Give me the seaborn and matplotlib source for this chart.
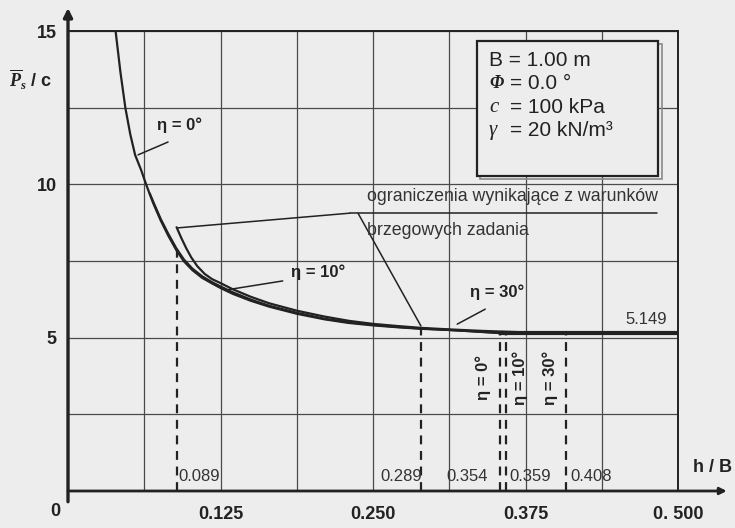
import numpy as np
import pandas as pd
import seaborn as sns
import matplotlib.pyplot as plt
from matplotlib.patches import Rectangle

# curves: h/B against P/c
h_eta0 = [0.039, 0.043, 0.047, 0.051, 0.055, 0.060, 0.064, 0.070, 0.076, 0.082,
          0.089, 0.095, 0.102, 0.110, 0.118, 0.125, 0.135, 0.150, 0.165, 0.1875,
          0.210, 0.230, 0.250, 0.270, 0.289, 0.3125, 0.330, 0.345, 0.354]
p_eta0 = [15.0, 13.65, 12.50, 11.64, 10.96, 10.46, 10.00, 9.37, 8.82, 8.34,
          7.84, 7.49, 7.20, 6.95, 6.77, 6.62, 6.43, 6.20, 6.01, 5.78,
          5.60, 5.48, 5.40, 5.34, 5.29, 5.25, 5.21, 5.17, 5.149]

h_eta10 = [0.067, 0.070, 0.076, 0.082, 0.089, 0.095, 0.102, 0.110, 0.118, 0.125,
           0.135, 0.150, 0.165, 0.1875, 0.210, 0.230, 0.250, 0.270, 0.289, 0.3125,
           0.335, 0.359]
p_eta10 = [9.70, 9.42, 8.87, 8.40, 7.90, 7.55, 7.25, 7.00, 6.81, 6.67,
           6.48, 6.24, 6.04, 5.81, 5.62, 5.50, 5.42, 5.35, 5.30, 5.25,
           5.20, 5.149]

h_eta30 = [0.089, 0.093, 0.097, 0.101, 0.106, 0.112, 0.118, 0.125, 0.135, 0.150,
           0.165, 0.1875, 0.210, 0.230, 0.250, 0.270, 0.289, 0.3125, 0.340, 0.370,
           0.408]
p_eta30 = [8.60, 8.24, 7.91, 7.62, 7.33, 7.08, 6.91, 6.78, 6.58, 6.33,
           6.12, 5.88, 5.69, 5.55, 5.45, 5.38, 5.32, 5.27, 5.22, 5.18,
           5.149]

h_limit = [0.354, 0.500]
p_limit = [5.149, 5.149]

bound_h = [0.089, 0.289, 0.354, 0.359, 0.408]
bound_top = [7.95, 5.33, 5.20, 5.19, 5.16]
bound_labels = ['0.089', '0.289', '0.354', '0.359', '0.408']

x_ticks = [0, 0.125, 0.25, 0.375, 0.5]
x_ticklabels = ['', '0.125', '0.250', '0.375', '0. 500']
y_ticks = [0, 5, 10, 15]
y_ticklabels = ['', '5', '10', '15']

bg = '#ededed'
ink = '#222222'

sns.set_theme(style='white')
plt.rcParams['font.family'] = ['Liberation Sans', 'DejaVu Sans']
plt.rcParams['mathtext.fontset'] = 'custom'
plt.rcParams['mathtext.it'] = 'Liberation Serif:italic:bold'
plt.rcParams['mathtext.rm'] = 'Liberation Serif'

fig = plt.figure(figsize=(7.35, 5.28), dpi=100, facecolor=bg)
ax = fig.add_axes([68 / 735, 37 / 528, 610 / 735, 460 / 528])
ax.set_facecolor(bg)

curves = pd.concat([
    pd.DataFrame({'h': h_eta0, 'p': p_eta0, 'eta': '0'}),
    pd.DataFrame({'h': h_eta10, 'p': p_eta10, 'eta': '10'}),
    pd.DataFrame({'h': h_eta30, 'p': p_eta30, 'eta': '30'}),
])
sns.lineplot(data=curves, x='h', y='p', units='eta', estimator=None,
             color=ink, lw=1.6, ax=ax, zorder=4)
sns.lineplot(x=h_limit, y=p_limit, color=ink, lw=3.0, ax=ax, zorder=4)

# dashed boundary lines and their values
for xb, yt in zip(bound_h, bound_top):
    ax.plot([xb, xb], [0, yt], color=ink, lw=1.6, ls=(0, (4, 3)), zorder=3)
for xb, lab, ha, dx in zip(bound_h, bound_labels,
                           ['left', 'right', 'right', 'left', 'left'],
                           [0.0012, 0.0015, -0.010, 0.003, 0.0035]):
    ax.text(xb + dx, 0.46, lab, ha=ha, va='center', fontsize=12, color='#333333')

ax.set_xlim(0, 0.5)
ax.set_ylim(0, 15)
ax.set_xticks(x_ticks)
ax.set_xticklabels(x_ticklabels, fontsize=13, fontweight='bold')
ax.set_xticks(np.arange(0.0625, 0.5, 0.125), minor=True)
ax.set_yticks(y_ticks)
ax.set_yticklabels(y_ticklabels, fontsize=13, fontweight='bold')
ax.set_yticks([2.5, 7.5, 12.5], minor=True)
ax.grid(True, which='both', color='#4a4a4a', lw=0.9)
ax.set_axisbelow(True)
ax.tick_params(axis='x', which='major', length=4, width=1.2, pad=7, colors=ink)
ax.tick_params(axis='y', which='major', length=4, width=1.2, pad=4, colors=ink)
ax.tick_params(which='minor', length=0)
ax.set_xlabel('')
ax.set_ylabel('')

ax.spines['left'].set_visible(False)
ax.spines['bottom'].set_visible(False)
for s in ['top', 'right']:
    ax.spines[s].set_color(ink)
    ax.spines[s].set_linewidth(1.4)

# axis arrows
ax.annotate('', xy=(0, 15.75), xytext=(0, -0.35), annotation_clip=False,
            arrowprops=dict(arrowstyle='-|>', lw=2.4, color=ink, mutation_scale=13,
                            shrinkA=0, shrinkB=0))
ax.annotate('', xy=(0.540, 0), xytext=(0, 0), annotation_clip=False,
            arrowprops=dict(arrowstyle='-|>', lw=2.0, color=ink, mutation_scale=10,
                            shrinkA=0, shrinkB=0))

ax.text(-0.0107, -0.68, '0', ha='center', va='center', fontsize=13,
        fontweight='bold', color=ink, clip_on=False)
ax.text(-0.031, 13.4, r'$\overline{P}_s$' + ' / c', ha='center', va='center',
        fontsize=13, fontweight='bold', color=ink, clip_on=False)
ax.text(0.528, 0.75, 'h / B', ha='center', va='center', fontsize=13,
        fontweight='bold', color=ink, clip_on=False)

# parameter box
ax.add_patch(Rectangle((0.3375, 10.17), 0.149, 4.40, facecolor='none',
                       edgecolor='#8a8a8a', lw=1.2, zorder=5))
ax.add_patch(Rectangle((0.335, 10.27), 0.149, 4.40, facecolor=bg,
                       edgecolor=ink, lw=1.6, zorder=6))
ax.text(0.345, 14.05, 'B = 1.00 m', ha='left', va='center', fontsize=15,
        color=ink, zorder=7)
for yy, sym, size, rest in zip([13.30, 12.52, 11.77], ['Φ', 'c', 'γ'],
                               [13, 15, 15],
                               ['= 0.0 °', '= 100 kPa', '= 20 kN/m³']):
    ax.text(0.345, yy, sym, ha='left', va='center', fontsize=size,
            family='Liberation Serif', style='italic',
            fontweight='bold' if sym == 'Φ' else 'normal', color=ink, zorder=7)
    ax.text(0.3625, yy, rest, ha='left', va='center', fontsize=15,
            color=ink, zorder=7)

# boundary-condition note
ax.text(0.245, 9.59, 'ograniczenia wynikające z warunków', ha='left',
        va='center', fontsize=12.8, color='#333333')
ax.text(0.245, 8.51, 'brzegowych zadania', ha='left', va='center',
        fontsize=12.8, color='#333333')
ax.plot([0.231, 0.483], [9.06, 9.06], color=ink, lw=1.1)
ax.plot([0.231, 0.090], [9.06, 8.58], color=ink, lw=1.1)
ax.plot([0.2377, 0.2893], [9.06, 5.38], color=ink, lw=1.1)

# curve labels
ax.text(0.091, 11.93, 'η = 0°', ha='center', va='center', fontsize=12,
        fontweight='bold', color=ink)
ax.plot([0.082, 0.0574], [11.38, 10.96], color=ink, lw=1.1)
ax.text(0.205, 7.14, 'η = 10°', ha='center', va='center', fontsize=12,
        fontweight='bold', color=ink)
ax.plot([0.176, 0.1287], [6.85, 6.55], color=ink, lw=1.1)
ax.text(0.352, 6.49, 'η = 30°', ha='center', va='center', fontsize=12,
        fontweight='bold', color=ink)
ax.plot([0.342, 0.319], [5.93, 5.44], color=ink, lw=1.1)

for xx, lab in zip([0.340, 0.371, 0.395], ['η = 0°', 'η = 10°', 'η = 30°']):
    ax.text(xx, 3.70, lab, ha='center', va='center', rotation=90, fontsize=12,
            fontweight='bold', color=ink)

ax.text(0.491, 5.58, '5.149', ha='right', va='center', fontsize=12, color='#333333')

fig.savefig('out.png', dpi=100, facecolor=bg)
